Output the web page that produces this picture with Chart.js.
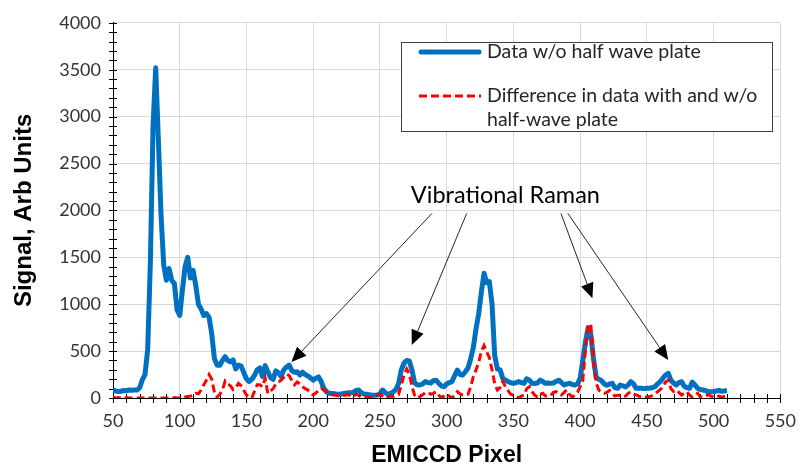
<!DOCTYPE html>
<html>
<head>
<meta charset="utf-8">
<script src="https://cdn.jsdelivr.net/npm/chart.js@4.4.1/dist/chart.umd.min.js"></script>
<style>
  html, body { margin: 0; padding: 0; background: #fff; }
  #wrap { width: 808px; height: 471px; }
</style>
</head>
<body>
<div id="wrap"><canvas id="chart" width="808" height="471"></canvas></div>
<script>
// EMICCD pixel positions (every 2nd pixel)
const pixels = [
  50, 52, 54, 56, 58, 60, 62, 64, 66, 68,
  70, 72, 74, 76, 78, 80, 82, 84, 86, 88,
  90, 92, 94, 96, 98, 100, 102, 104, 106, 108,
  110, 112, 114, 116, 118, 120, 122, 124, 126, 128,
  130, 132, 134, 136, 138, 140, 142, 144, 146, 148,
  150, 152, 154, 156, 158, 160, 162, 164, 166, 168,
  170, 172, 174, 176, 178, 180, 182, 184, 186, 188,
  190, 192, 194, 196, 198, 200, 202, 204, 206, 208,
  210, 212, 214, 216, 218, 220, 222, 224, 226, 228,
  230, 232, 234, 236, 238, 240, 242, 244, 246, 248,
  250, 252, 254, 256, 258, 260, 262, 264, 266, 268,
  270, 272, 274, 276, 278, 280, 282, 284, 286, 288,
  290, 292, 294, 296, 298, 300, 302, 304, 306, 308,
  310, 312, 314, 316, 318, 320, 322, 324, 326, 328,
  330, 332, 334, 336, 338, 340, 342, 344, 346, 348,
  350, 352, 354, 356, 358, 360, 362, 364, 366, 368,
  370, 372, 374, 376, 378, 380, 382, 384, 386, 388,
  390, 392, 394, 396, 398, 400, 402, 404, 406, 408,
  410, 412, 414, 416, 418, 420, 422, 424, 426, 428,
  430, 432, 434, 436, 438, 440, 442, 444, 446, 448,
  450, 452, 454, 456, 458, 460, 462, 464, 466, 468,
  470, 472, 474, 476, 478, 480, 482, 484, 486, 488,
  490, 492, 494, 496, 498, 500, 502, 504, 506, 508,
  510
];

// Data w/o half wave plate
const noPlate = [
  85, 75, 68, 72, 80, 78, 85, 82, 86, 85,
  110, 195, 250, 520, 1450, 2900, 3520, 2750, 1950, 1420,
  1255, 1380, 1255, 1220, 940, 880, 1150, 1400, 1500, 1280,
  1360, 1200, 1000, 950, 880, 900, 860, 680, 420, 350,
  350, 400, 440, 400, 385, 405, 310, 350, 340, 270,
  205, 175, 200, 240, 300, 320, 230, 345, 280, 220,
  200, 290, 270, 230, 300, 330, 350, 290, 275, 280,
  245, 275, 250, 235, 215, 190, 210, 225, 175, 100,
  65, 50, 48, 45, 40, 40, 45, 50, 55, 55,
  60, 80, 85, 55, 42, 40, 35, 30, 30, 32,
  45, 85, 55, 40, 50, 65, 90, 156, 300, 370,
  400, 395, 300, 160, 140, 138, 150, 175, 165, 158,
  185, 190, 158, 130, 120, 150, 165, 175, 240, 298,
  250, 245, 280, 320, 420, 540, 740, 900, 1130, 1330,
  1230, 1240, 1000, 450, 310, 300, 210, 190, 175, 165,
  156, 165, 175, 165, 156, 205, 190, 156, 155, 160,
  190, 175, 156, 160, 156, 160, 175, 190, 165, 138,
  150, 156, 145, 138, 150, 209, 400, 600, 750, 680,
  420, 220, 200, 185, 150, 135, 150, 156, 110, 103,
  138, 130, 118, 140, 174, 150, 103, 105, 103, 100,
  103, 105, 110, 120, 150, 174, 210, 245, 263, 190,
  160, 138, 165, 174, 125, 110, 103, 170, 140, 103,
  90, 85, 78, 68, 67, 70, 75, 80, 72, 75,
  80
];

// Difference in data with and w/o half-wave plate
const difference = [
  10, 0, 5, 0, 0, 5, 0, 0, 5, 0,
  0, 0, 5, 0, 0, 0, 0, 0, 0, 0,
  0, 0, 0, 5, 0, 0, 0, 10, 15, 20,
  25, 50, 45, 85, 140, 190, 250, 200, 60, 10,
  40, 85, 180, 150, 130, 90, 110, 156, 130, 80,
  32, 10, 0, 70, 140, 140, 120, 209, 50, 75,
  100, 150, 170, 190, 220, 255, 240, 185, 140, 170,
  150, 120, 100, 85, 50, 32, 55, 80, 103, 85,
  67, 50, 35, 32, 25, 20, 25, 30, 40, 20,
  15, 40, 30, 10, 15, 10, 5, 10, 20, 30,
  40, 20, 0, 10, 20, 15, 30, 40, 140, 240,
  310, 260, 120, 30, 0, 15, 35, 55, 60, 40,
  50, 67, 30, 5, 20, 40, 20, 0, 30, 67,
  45, 32, 35, 40, 120, 230, 300, 380, 500, 560,
  490, 430, 300, 150, 85, 110, 180, 120, 80, 40,
  30, 10, 0, 20, 32, 100, 120, 67, 30, 10,
  40, 50, 20, 20, 30, 60, 67, 45, 32, 60,
  85, 40, 10, 30, 60, 120, 191, 520, 760, 790,
  380, 160, 85, 60, 50, 60, 80, 50, 20, 30,
  30, 15, 20, 50, 67, 45, 32, 20, 10, 10,
  10, 15, 25, 40, 67, 90, 120, 170, 191, 100,
  70, 85, 60, 32, 50, 67, 30, 10, 30, 50,
  15, 10, 25, 35, 20, 10, 15, 20, 10, 15,
  20
];

const xTicks = [50, 100, 150, 200, 250, 300, 350, 400, 450, 500, 550];
const yTicks = [0, 500, 1000, 1500, 2000, 2500, 3000, 3500, 4000];

const seriesNames = ['Data w/o half wave plate', 'Difference in data with and w/o', 'half-wave plate'];

// annotation: label and arrow ends in data units
const ramanLabel = { text: 'Vibrational Raman', x: 344, y: 2160 };
const ramanArrows = [
  { from: [289, 1968], to: [183.7, 383] },
  { from: [315, 1968], to: [273.9, 564] },
  { from: [385.6, 1968], to: [409.2, 1064] },
  { from: [390.8, 1968], to: [466, 404] }
];

const BLUE = '#0070C0';
const RED = '#FF0000';
const tickFont = { family: 'Lato', size: 18 };

function drawArrow(ctx, x1, y1, x2, y2) {
  const ang = Math.atan2(y2 - y1, x2 - x1);
  const len = 15, half = 6.5;
  const bx = x2 - len * Math.cos(ang), by = y2 - len * Math.sin(ang);
  ctx.beginPath();
  ctx.moveTo(x1, y1);
  ctx.lineTo(bx, by);
  ctx.stroke();
  ctx.beginPath();
  ctx.moveTo(x2, y2);
  ctx.lineTo(bx + half * Math.sin(ang), by - half * Math.cos(ang));
  ctx.lineTo(bx - half * Math.sin(ang), by + half * Math.cos(ang));
  ctx.closePath();
  ctx.fill();
}

const minorTicks = {
  id: 'minorTicks',
  beforeDatasetsDraw(chart) {
    const { ctx, chartArea, scales: { x, y } } = chart;
    ctx.save();
    ctx.strokeStyle = '#000';
    ctx.lineWidth = 1;
    ctx.beginPath();
    for (let v = 0; v <= 4000; v += 100) {
      const py = Math.round(y.getPixelForValue(v)) + 0.5;
      ctx.moveTo(chartArea.left - 4, py);
      ctx.lineTo(chartArea.left + 4, py);
    }
    for (let v = 50; v <= 550; v += 10) {
      const px = Math.round(x.getPixelForValue(v)) + 0.5;
      ctx.moveTo(px, chartArea.bottom - 4);
      ctx.lineTo(px, chartArea.bottom + 5);
    }
    ctx.stroke();
    ctx.restore();
  }
};

const extras = {
  id: 'extras',
  afterDraw(chart) {
    const { ctx, scales: { x, y } } = chart;
    ctx.save();

    // legend box
    const bx = 401, by = 42, bw = 371, bh = 89;
    ctx.fillStyle = '#fff';
    ctx.fillRect(bx, by, bw, bh);
    ctx.strokeStyle = '#404040';
    ctx.lineWidth = 1;
    ctx.strokeRect(bx + 0.5, by + 0.5, bw, bh);

    ctx.lineCap = 'round';
    ctx.strokeStyle = BLUE;
    ctx.lineWidth = 5;
    ctx.beginPath();
    ctx.moveTo(421, 52);
    ctx.lineTo(479, 52);
    ctx.stroke();

    ctx.lineCap = 'butt';
    ctx.strokeStyle = RED;
    ctx.lineWidth = 3;
    ctx.setLineDash([8, 4]);
    ctx.beginPath();
    ctx.moveTo(419, 96);
    ctx.lineTo(481, 96);
    ctx.stroke();
    ctx.setLineDash([]);

    ctx.fillStyle = '#262626';
    ctx.font = '19.5px Lato';
    ctx.textAlign = 'left';
    ctx.textBaseline = 'middle';
    ctx.fillText(seriesNames[0], 487, 52);
    ctx.fillText(seriesNames[1], 487, 96);
    ctx.fillText(seriesNames[2], 487, 120);

    // Raman annotation
    ctx.font = '23.5px Lato';
    ctx.textAlign = 'center';
    ctx.fillStyle = '#000';
    ctx.fillText(ramanLabel.text, x.getPixelForValue(ramanLabel.x), y.getPixelForValue(ramanLabel.y));

    ctx.strokeStyle = '#262626';
    ctx.fillStyle = '#000';
    ctx.lineWidth = 1;
    ramanArrows.forEach(a => {
      drawArrow(ctx,
        x.getPixelForValue(a.from[0]), y.getPixelForValue(a.from[1]),
        x.getPixelForValue(a.to[0]), y.getPixelForValue(a.to[1]));
    });
    ctx.restore();
  }
};

new Chart(document.getElementById('chart'), {
  type: 'line',
  data: {
    labels: pixels,
    datasets: [
      {
        label: seriesNames[1],
        data: difference,
        borderColor: RED,
        borderWidth: 3,
        borderDash: [8, 4],
        pointRadius: 0,
        tension: 0,
        order: 0
      },
      {
        label: seriesNames[0],
        data: noPlate,
        borderColor: BLUE,
        borderWidth: 5,
        pointRadius: 0,
        tension: 0,
        borderJoinStyle: 'round',
        order: 1
      }
    ]
  },
  options: {
    responsive: false,
    animation: false,
    events: [],
    layout: { padding: { left: 6, right: 20, top: 22, bottom: 0 } },
    plugins: { legend: { display: false }, tooltip: { enabled: false } },
    scales: {
      x: {
        type: 'linear',
        min: 50, max: 550,
        afterBuildTicks: s => { s.ticks = xTicks.map(v => ({ value: v })); },
        afterFit: s => { s.height = 73; },
        grid: { color: '#d9d9d9', drawTicks: false },
        border: { color: '#000', width: 1 },
        ticks: { font: tickFont, color: '#333', padding: 12, maxRotation: 0, callback: v => String(v) },
        title: { display: true, text: 'EMICCD Pixel', color: '#000',
                 font: { family: 'Liberation Sans', size: 23, weight: 'bold' }, padding: { top: 8, bottom: 2 } }
      },
      y: {
        min: 0, max: 4000,
        afterBuildTicks: s => { s.ticks = yTicks.map(v => ({ value: v })); },
        afterFit: s => { s.width = 107; },
        grid: { color: '#d9d9d9', drawTicks: false },
        border: { color: '#000', width: 1 },
        ticks: { font: tickFont, color: '#333', padding: 12, callback: v => String(v) },
        title: { display: true, text: 'Signal, Arb Units', color: '#000',
                 font: { family: 'Liberation Sans', size: 24, weight: 'bold' }, padding: { bottom: 2 } }
      }
    }
  },
  plugins: [minorTicks, extras]
});
</script>
</body>
</html>
